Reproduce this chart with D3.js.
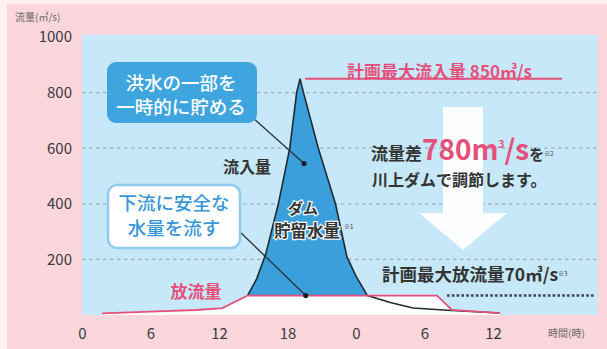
<!DOCTYPE html>
<html>
<head>
<meta charset="utf-8">
<script src="https://cdn.jsdelivr.net/npm/d3@7"></script>
<style>
  html, body { margin: 0; padding: 0; background: #fdf1f3; }
  svg { display: block; }
  text { font-family: "Noto Sans CJK JP", "Noto Sans", sans-serif; }
</style>
</head>
<body>
<svg id="chart" width="607" height="349"></svg>
<script>
// Hour ticks along the bottom (hour 24 wraps back to 0)
const hourTicks = [0, 6, 12, 18, 24, 30, 36];
const flowTicks = [200, 400, 600, 800, 1000];

// Inflow hydrograph into the dam [hour, m3/s]
const inflowHours  = [14.5, 15.3, 16.1, 17.2, 18.2, 18.8, 19.1, 19.4, 20.7, 22.2, 23.2, 24.0, 25.0, 27.0, 29.0, 32.0, 36.6];
const inflowValues = [70,   130,  220,  400,  600,  800,  850,  800,  600,  400,  210,  140,  70,   45,   25,   17,   7];

// Release downstream [hour, m3/s]
const releaseHours  = [1.75, 6,  10, 12.3, 14.5, 31.1, 32.4, 36.6];
const releaseValues = [6,    12, 18, 25,   70,   70,   18,   7];

const plannedMaxInflow = 850;
const plannedMaxRelease = 70;
const flowDifference = plannedMaxInflow - plannedMaxRelease;

const svg = d3.select("#chart");
const W = 607, H = 349;
const plot = { left: 82, right: 598, top: 35, bottom: 315 };

const x = d3.scaleLinear().domain([0, 36]).range([82, 493]);
const y = d3.scaleLinear().domain([0, 1000]).range([315, 37]);

const inflow = inflowHours.map((h, i) => ({ h, v: inflowValues[i] }));
const release = releaseHours.map((h, i) => ({ h, v: releaseValues[i] }));

// linear interpolation of the release curve at any hour
function releaseAt(h) {
  if (h <= release[0].h) return release[0].v;
  for (let i = 1; i < release.length; i++) {
    if (h <= release[i].h) {
      const a = release[i - 1], b = release[i];
      return a.v + (b.v - a.v) * (h - a.h) / (b.h - a.h);
    }
  }
  return release[release.length - 1].v;
}

// backgrounds
svg.append("rect").attr("x", 7).attr("y", 4).attr("width", W - 7).attr("height", H - 4).attr("fill", "#fbd6dc");
svg.append("rect")
  .attr("x", plot.left).attr("y", plot.top)
  .attr("width", plot.right - plot.left).attr("height", plot.bottom - plot.top)
  .attr("fill", "#c6e8f8");

// horizontal dashed grid
svg.append("g").selectAll("line").data(flowTicks.filter(d => d < 1000)).join("line")
  .attr("x1", plot.left).attr("x2", plot.right)
  .attr("y1", d => y(d)).attr("y2", d => y(d))
  .attr("stroke", "#9fb0bd").attr("stroke-width", 1.2)
  .attr("stroke-dasharray", "3.5,3.5");

// white area under the release curve
svg.append("path").datum(release)
  .attr("d", d3.area().x(d => x(d.h)).y0(y(0)).y1(d => y(d.v)))
  .attr("fill", "#ffffff");

// stored volume: area between inflow and release
svg.append("path").datum(inflow.filter(d => d.v >= releaseAt(d.h)))
  .attr("d", d3.area().x(d => x(d.h)).y0(d => y(releaseAt(d.h))).y1(d => y(d.v)))
  .attr("fill", "#3a9fdb");

// inflow line
svg.append("path").datum(inflow)
  .attr("d", d3.line().x(d => x(d.h)).y(d => y(d.v)))
  .attr("fill", "none").attr("stroke", "#222a30").attr("stroke-width", 1.6);

// release line
svg.append("path").datum(release)
  .attr("d", d3.line().x(d => x(d.h)).y(d => y(d.v)))
  .attr("fill", "none").attr("stroke", "#e5507a").attr("stroke-width", 1.8);

// planned max inflow line
svg.append("line")
  .attr("x1", 305).attr("x2", 562)
  .attr("y1", y(plannedMaxInflow)).attr("y2", y(plannedMaxInflow))
  .attr("stroke", "#e5507a").attr("stroke-width", 2);

// planned max release dotted line
svg.append("line")
  .attr("x1", 447).attr("x2", 594)
  .attr("y1", y(plannedMaxRelease)).attr("y2", y(plannedMaxRelease))
  .attr("stroke", "#3a4650").attr("stroke-width", 2.6)
  .attr("stroke-dasharray", "2.6,2.2");

// big white arrow
const ax = 463, aTop = 107, aNeck = 213, aTip = 250, shaftHalf = 20, headHalf = 44;
svg.append("path")
  .attr("d", `M${ax - shaftHalf},${aTop} L${ax + shaftHalf},${aTop} L${ax + shaftHalf},${aNeck} L${ax + headHalf},${aNeck} L${ax},${aTip} L${ax - headHalf},${aNeck} L${ax - shaftHalf},${aNeck} Z`)
  .attr("fill", "#fbfdff");

// axes
const yAxis = svg.append("g").attr("transform", `translate(${plot.left},0)`)
  .call(d3.axisLeft(y).tickValues(flowTicks).tickFormat(d3.format("d")).tickSize(0).tickPadding(10));
const xAxis = svg.append("g").attr("transform", `translate(0,${plot.bottom})`)
  .call(d3.axisBottom(x).tickValues(hourTicks).tickFormat(d => d % 24).tickSize(0).tickPadding(13));
[yAxis, xAxis].forEach(g => {
  g.select(".domain").remove();
  g.selectAll("text").attr("font-size", 15).attr("fill", "#3a3a3a")
    .attr("font-family", "\"Noto Sans CJK JP\", sans-serif");
});

// axis titles
svg.append("text").attr("x", 15).attr("y", 21).attr("font-size", 10).attr("fill", "#666").text("流量(㎥/s)");
svg.append("text").attr("x", 548).attr("y", 337).attr("font-size", 10).attr("fill", "#666").text("時間(時)");

// callout: store part of the flood
svg.append("line").attr("x1", 252).attr("y1", 117).attr("x2", x(19.45)).attr("y2", y(545))
  .attr("stroke", "#2a3238").attr("stroke-width", 1.3);
svg.append("rect").attr("x", 107).attr("y", 62).attr("width", 150).attr("height", 61).attr("rx", 9)
  .attr("fill", "#3ea5de");
const c1 = svg.append("text").attr("text-anchor", "middle").attr("fill", "#fff").attr("font-size", 18.5).attr("font-weight", 500);
c1.append("tspan").attr("x", 181).attr("y", 90).text("洪水の一部を");
c1.append("tspan").attr("x", 181).attr("y", 114).text("一時的に貯める");

// callout: safe release downstream
svg.append("line").attr("x1", 238).attr("y1", 230).attr("x2", x(19.6)).attr("y2", y(plannedMaxRelease))
  .attr("stroke", "#2a3238").attr("stroke-width", 1.3);
svg.append("rect").attr("x", 108).attr("y", 185).attr("width", 132).attr("height", 63).attr("rx", 9)
  .attr("fill", "#ffffff").attr("stroke", "#8ecbee").attr("stroke-width", 2.5);
const c2 = svg.append("text").attr("text-anchor", "middle").attr("fill", "#3797d6").attr("font-size", 18.5).attr("font-weight", 500);
c2.append("tspan").attr("x", 174).attr("y", 210).text("下流に安全な");
c2.append("tspan").attr("x", 174).attr("y", 235).text("水量を流す");

// anchor dots
svg.append("circle").attr("cx", x(19.45)).attr("cy", y(545)).attr("r", 2.6).attr("fill", "#1c2226");
svg.append("circle").attr("cx", x(19.6)).attr("cy", y(plannedMaxRelease)).attr("r", 2.6).attr("fill", "#1c2226");

// labels
svg.append("text").attr("x", 247).attr("y", 173).attr("text-anchor", "middle")
  .attr("font-size", 16).attr("font-weight", 700).attr("fill", "#333").text("流入量");

const damStyle = t => t.attr("text-anchor", "middle").attr("font-weight", 700)
  .attr("fill", "#333").attr("stroke", "#f4f8fb").attr("stroke-width", 2.5).attr("paint-order", "stroke");
svg.append("text").call(damStyle).attr("x", 303).attr("y", 214).attr("font-size", 15).text("ダム");
svg.append("text").call(damStyle).attr("x", 307).attr("y", 237).attr("font-size", 16.5).text("貯留水量");
svg.append("text").attr("x", 344).attr("y", 229).attr("font-size", 6).attr("fill", "#333").text("※1");

svg.append("text").attr("x", 196).attr("y", 298).attr("text-anchor", "middle")
  .attr("font-size", 17).attr("font-weight", 700).attr("fill", "#e5507a").text("放流量");

svg.append("text").attr("x", 347).attr("y", 78).attr("font-size", 17).attr("font-weight", 700)
  .attr("fill", "#e5507a").text(`計画最大流入量 ${plannedMaxInflow}㎥/s`);

const diff = svg.append("text").attr("x", 371).attr("y", 160).attr("font-weight", 700).attr("fill", "#333");
diff.append("tspan").attr("font-size", 17).text("流量差");
diff.append("tspan").attr("font-size", 28).attr("fill", "#e5507a").text(`${flowDifference}m`);
diff.append("tspan").attr("font-size", 10).attr("fill", "#e5507a").attr("baseline-shift", "120%").text("3");
diff.append("tspan").attr("font-size", 28).attr("fill", "#e5507a").text("/s");
diff.append("tspan").attr("font-size", 15).text("を");
diff.append("tspan").attr("font-size", 6).attr("font-weight", 400).attr("baseline-shift", "60%").text("※2");

svg.append("text").attr("x", 372).attr("y", 186).attr("font-size", 16).attr("font-weight", 700)
  .attr("fill", "#333").text("川上ダムで調節します。");

const rel = svg.append("text").attr("x", 382).attr("y", 281).attr("font-weight", 700).attr("fill", "#333");
rel.append("tspan").attr("font-size", 17.5).text(`計画最大放流量${plannedMaxRelease}㎥/s`);
rel.append("tspan").attr("font-size", 6).attr("font-weight", 400).attr("baseline-shift", "80%").text("※3");
</script>
</body>
</html>
